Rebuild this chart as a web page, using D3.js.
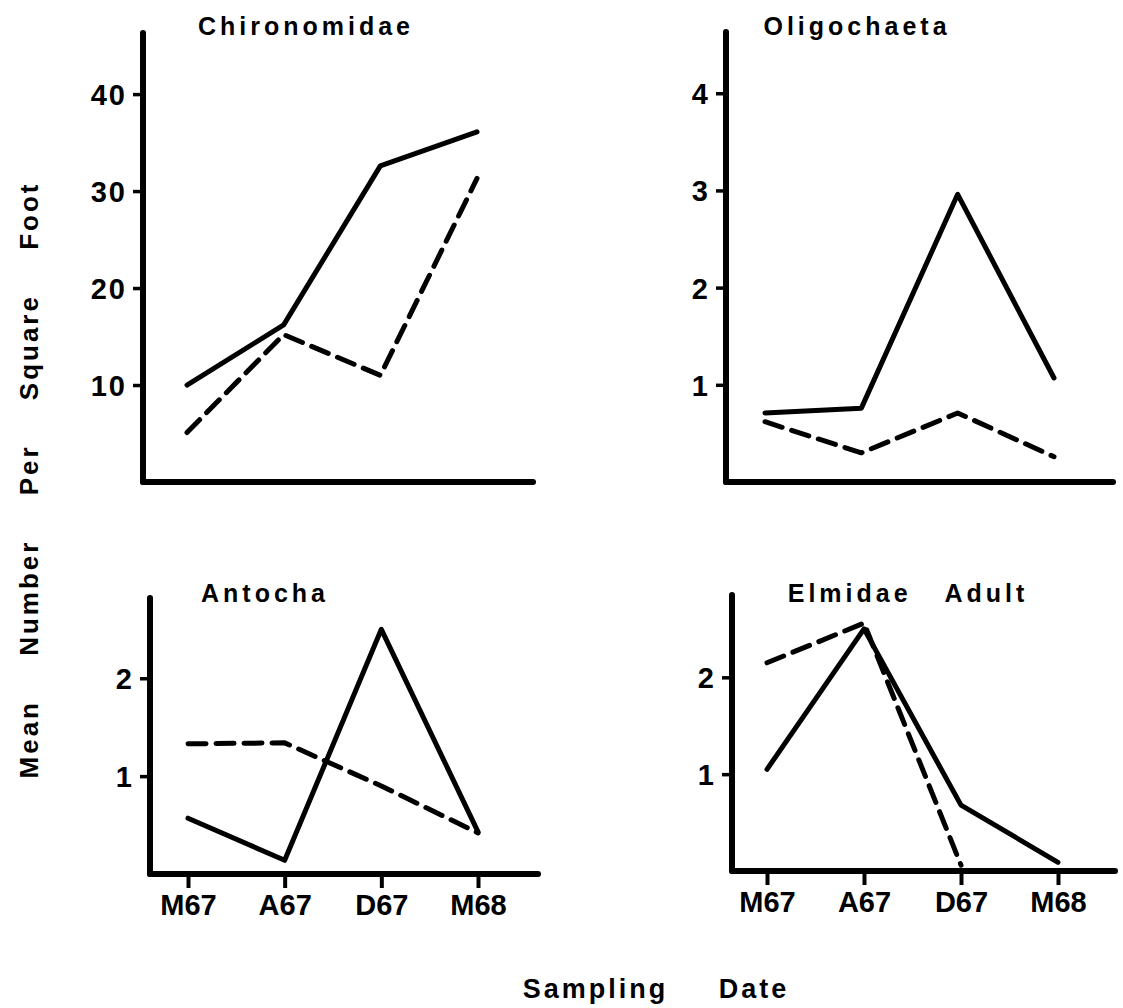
<!DOCTYPE html>
<html>
<head>
<meta charset="utf-8">
<script src="https://cdn.jsdelivr.net/npm/d3@7/dist/d3.min.js"></script>
<style>
  body { margin: 0; background: #fff; }
  text { font-family: "Liberation Sans", Arial, sans-serif; font-weight: bold; fill: #000; }
</style>
</head>
<body>
<script>
const w = 1123;
const h = 1008;

// sampling dates
const dates = ["M67", "A67", "D67", "M68"];

// mean number per square foot, solid and dashed series per taxon
const chironomidaeSolid = [10.0, 16.2, 32.6, 36.1];
const chironomidaeDashed = [5.1, 15.2, 11.0, 31.3];
const oligochaetaSolid = [0.71, 0.76, 2.96, 1.07];
const oligochaetaDashed = [0.62, 0.30, 0.71, 0.26];
const antochaSolid = [0.57, 0.14, 2.5, 0.43];
const antochaDashed = [1.33, 1.34, 0.9, 0.42];
const elmidaeSolid = [1.05, 2.5, 0.68, 0.09];
const elmidaeDashed = [2.15, 2.56, 0.06, null];

const chironomidaeTicks = [10, 20, 30, 40];
const oligochaetaTicks = [1, 2, 3, 4];
const antochaTicks = [1, 2];
const elmidaeTicks = [1, 2];

// panel layout
const panels = [
  { title: "Chironomidae", titleX: 306, titleY: 35, solid: chironomidaeSolid, dashed: chironomidaeDashed,
    ticks: chironomidaeTicks, yMax: 46.3, axisX: 143, bottom: 482, top: 33, right: 533, x0: 187, x1: 477, showX: false },
  { title: "Oligochaeta", titleX: 857, titleY: 35, solid: oligochaetaSolid, dashed: oligochaetaDashed,
    ticks: oligochaetaTicks, yMax: 4.63, axisX: 726, bottom: 482, top: 32, right: 1113, x0: 765, x1: 1054, showX: false },
  { title: "Antocha", titleX: 265, titleY: 602, solid: antochaSolid, dashed: antochaDashed,
    ticks: antochaTicks, yMax: 2.82, axisX: 150, bottom: 874, top: 598, right: 538, x0: 188, x1: 478, showX: true },
  { title: "Elmidae\u00a0\u00a0\u00a0Adult", titleX: 908, titleY: 602, solid: elmidaeSolid, dashed: elmidaeDashed,
    ticks: elmidaeTicks, yMax: 2.85, axisX: 732, bottom: 871, top: 595, right: 1115, x0: 767, x1: 1058, showX: true }
];

const svg = d3.select("body").append("svg").attr("width", w).attr("height", h);

panels.forEach(function (p) {
  const g = svg.append("g");

  const xScale = d3.scalePoint().domain(dates).range([p.x0, p.x1]);
  const yScale = d3.scaleLinear().domain([0, p.yMax]).range([p.bottom, p.top]);

  // y axis ticks and labels
  const yAxis = d3.axisLeft(yScale).tickValues(p.ticks).tickFormat(d3.format("d")).tickSize(10).tickPadding(6);
  const yg = g.append("g").attr("transform", "translate(" + p.axisX + ",0)").call(yAxis);
  yg.select(".domain").remove();
  yg.selectAll(".tick line").attr("stroke", "#000").attr("stroke-width", 3.5);
  yg.selectAll(".tick text")
    .style("font-size", "29px")
    .style("font-family", "'Liberation Sans', Arial, sans-serif")
    .style("font-weight", "bold")
    .style("letter-spacing", "2px")
    .attr("dy", "0.36em");

  g.append("line")
    .attr("x1", p.axisX).attr("x2", p.axisX)
    .attr("y1", p.top).attr("y2", p.bottom)
    .attr("stroke", "#000").attr("stroke-width", 6).attr("stroke-linecap", "round");
  g.append("line")
    .attr("x1", p.axisX).attr("x2", p.right)
    .attr("y1", p.bottom).attr("y2", p.bottom)
    .attr("stroke", "#000").attr("stroke-width", 6).attr("stroke-linecap", "round");

  if (p.showX) {
    const xAxis = d3.axisBottom(xScale).tickSize(14).tickPadding(6);
    const xg = g.append("g").attr("transform", "translate(0," + p.bottom + ")").call(xAxis);
    xg.select(".domain").remove();
    xg.selectAll(".tick line").attr("stroke", "#000").attr("stroke-width", 4);
    xg.selectAll(".tick text")
      .style("font-size", "29px")
      .style("font-family", "'Liberation Sans', Arial, sans-serif")
      .style("font-weight", "bold");
  }

  const line = d3.line()
    .defined(function (d) { return d != null; })
    .x(function (d, i) { return xScale(dates[i]); })
    .y(function (d) { return yScale(d); });

  g.append("path").datum(p.solid)
    .attr("d", line)
    .attr("fill", "none").attr("stroke", "#000").attr("stroke-width", 5)
    .attr("stroke-linejoin", "round").attr("stroke-linecap", "round");

  g.append("path").datum(p.dashed)
    .attr("d", line)
    .attr("fill", "none").attr("stroke", "#000").attr("stroke-width", 5)
    .attr("stroke-dasharray", "18,10")
    .attr("stroke-linejoin", "round").attr("stroke-linecap", "round");

  g.append("text")
    .attr("x", p.titleX).attr("y", p.titleY)
    .attr("text-anchor", "middle")
    .style("font-size", "25px")
    .style("letter-spacing", "4px")
    .text(p.title);
});

// axis titles
svg.append("text")
  .attr("transform", "translate(38,480) rotate(-90)")
  .attr("text-anchor", "middle")
  .style("font-size", "26px")
  .style("letter-spacing", "3px")
  .style("word-spacing", "34px")
  .text("Mean Number Per Square Foot");

svg.append("text")
  .attr("x", 656).attr("y", 998)
  .attr("text-anchor", "middle")
  .style("font-size", "27px")
  .style("letter-spacing", "3px")
  .style("word-spacing", "40px")
  .text("Sampling Date");
</script>
</body>
</html>
